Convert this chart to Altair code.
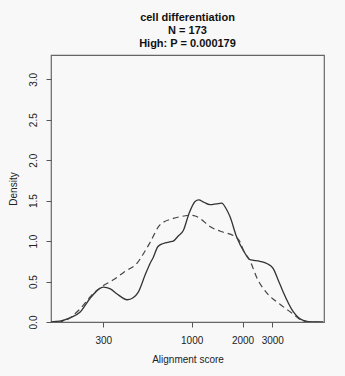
import altair as alt
import pandas as pd

# solid curve (High)
x_solid = [140, 166, 190, 218, 250, 280, 300, 330, 360, 416, 450, 483, 530, 566, 593, 630, 679, 740, 778, 830, 892, 960, 1047, 1100, 1180, 1283, 1400, 1506, 1600, 1687, 1846, 2040, 2213, 2536, 2800, 3040, 3250, 3480, 3980, 4570, 5240, 6000]
y_solid = [0.0, 0.01, 0.05, 0.12, 0.29, 0.40, 0.43, 0.41, 0.35, 0.275, 0.30, 0.37, 0.58, 0.72, 0.80, 0.93, 0.97, 0.99, 1.00, 1.06, 1.13, 1.33, 1.49, 1.51, 1.48, 1.45, 1.46, 1.47, 1.40, 1.30, 1.05, 0.87, 0.77, 0.75, 0.72, 0.66, 0.52, 0.37, 0.13, 0.02, 0.0, 0.0]

# dashed curve (background)
x_dash = [160, 174, 218, 261, 300, 350, 394, 431, 472, 520, 566, 649, 778, 900, 977, 1050, 1120, 1283, 1538, 1763, 1932, 2020, 2213, 2426, 2780, 3330, 3980, 4480, 5000, 6000]
y_dash = [0.0, 0.01, 0.16, 0.35, 0.45, 0.53, 0.61, 0.66, 0.72, 0.85, 0.98, 1.20, 1.28, 1.31, 1.32, 1.31, 1.28, 1.18, 1.11, 1.07, 0.99, 0.89, 0.76, 0.55, 0.36, 0.22, 0.10, 0.02, 0.0, 0.0]

x_ticks = [300, 1000, 2000, 3000]
y_ticks = [0.0, 0.5, 1.0, 1.5, 2.0, 2.5, 3.0]
title_lines = ["cell differentiation", "N = 173", "High: P = 0.000179"]

solid = pd.DataFrame({"score": x_solid, "density": y_solid})
dash = pd.DataFrame({"score": x_dash, "density": y_dash})

FONT = "Liberation Sans"

xenc = alt.X("score:Q",
             scale=alt.Scale(type="log", domain=[147, 6070], nice=False),
             axis=alt.Axis(values=x_ticks, format="d", title="Alignment score",
                           grid=False, domain=False, tickSize=5, tickColor="#555",
                           labelPadding=8, labelFontSize=10, labelFont=FONT,
                           labelColor="#222", titleFont=FONT, titleFontSize=10,
                           titleFontWeight="normal", titlePadding=9, titleColor="#222",
                           labelFlush=False, labelOverlap=False))
yenc = alt.Y("density:Q",
             scale=alt.Scale(domain=[0, 3.3], nice=False, zero=True),
             axis=alt.Axis(values=y_ticks, format=".1f", title="Density",
                           grid=False, domain=False, tickSize=5, tickColor="#555",
                           labelAngle=270, labelAlign="center", labelBaseline="bottom",
                           labelPadding=8, labelFontSize=10, labelFont=FONT,
                           labelColor="#222", titleFont=FONT, titleFontSize=10,
                           titleFontWeight="normal", titlePadding=10, titleColor="#222",
                           labelFlush=False, labelOverlap=False))

line_solid = alt.Chart(solid).mark_line(
    interpolate="monotone", color="#333333", strokeWidth=1.3, clip=True
).encode(x=xenc, y=yenc)

line_dash = alt.Chart(dash).mark_line(
    interpolate="monotone", color="#444444", strokeWidth=1.2, strokeDash=[6, 4], clip=True
).encode(x="score:Q", y="density:Q")

chart = alt.layer(line_solid, line_dash).properties(
    width=273, height=267,
    padding={"left": 51, "top": 55, "right": 21, "bottom": 54},
    autosize="none",
    background="#f8f8f8",
    title=alt.TitleParams(text=title_lines, anchor="middle", fontSize=11,
                          fontWeight="bold", font=FONT, color="#111",
                          lineHeight=13, offset=6),
).configure_view(stroke="#666666", strokeWidth=1.2, fill="#f8f8f8")

chart.save("out.html", embed_options={"renderer": "svg", "actions": False})
